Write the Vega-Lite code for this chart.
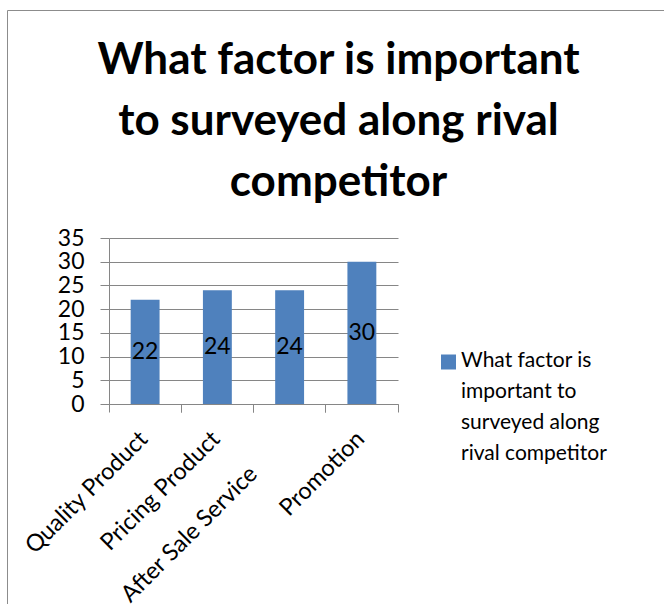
{
  "$schema": "https://vega.github.io/schema/vega-lite/v6.json",
  "autosize": "none",
  "width": 657,
  "height": 600,
  "padding": {"left": 7, "top": 10, "right": 0, "bottom": 0},
  "background": "white",
  "config": {
    "view": {"stroke": "#8c8c8c", "strokeWidth": 1},
    "font": "Lato",
    "style": {"guide-label": {"lineHeight": 31}},
    "axis": {
      "domainColor": "#868686",
      "tickColor": "#868686",
      "gridColor": "#868686",
      "labelColor": "black",
      "labelFont": "Lato",
      "title": null
    }
  },
  "title": {
    "text": ["What factor is important", "to surveyed along rival", "competitor"],
    "font": "Lato",
    "fontSize": 44,
    "fontWeight": "bold",
    "lineHeight": 61,
    "anchor": "middle",
    "frame": "group",
    "orient": "top",
    "baseline": "top",
    "offset": 0,
    "dy": 195,
    "dx": 3,
    "color": "black"
  },
  "data": {
    "values": [
      {"category": "Quality Product", "value": 22, "series": "What factor is important to surveyed along rival competitor"},
      {"category": "Pricing Product", "value": 24, "series": "What factor is important to surveyed along rival competitor"},
      {"category": "After Sale Service", "value": 24, "series": "What factor is important to surveyed along rival competitor"},
      {"category": "Promotion", "value": 30, "series": "What factor is important to surveyed along rival competitor"}
    ]
  },
  "layer": [
    {
      "mark": {"type": "bar", "width": {"band": 0.4}},
      "encoding": {
        "x": {
          "field": "category", "type": "nominal", "sort": null,
          "scale": {"range": [102, 391], "paddingInner": 0, "paddingOuter": 0},
          "axis": {"orient": "bottom", "offset": -206, "bandPosition": 0, "labels": false, "domain": true, "ticks": true, "tickSize": 8, "grid": false}
        },
        "y": {
          "field": "value", "type": "quantitative",
          "scale": {"domain": [0, 35], "range": [394, 228], "nice": false, "zero": true},
          "axis": {"orient": "left", "offset": -102, "values": [0, 5, 10, 15, 20, 25, 30, 35], "grid": true, "tickSize": 9, "labelPadding": 16, "labelFontSize": 23, "labelBaseline": "middle"}
        },
        "color": {
          "field": "series", "type": "nominal",
          "scale": {"range": ["#4F81BD"]},
          "legend": {
            "orient": "none", "legendX": 431, "legendY": 346, "padding": 0,
            "title": null, "symbolType": "M-1,-1.6H1V0.4H-1Z", "symbolSize": 225, "symbolStrokeWidth": 0,
            "labelFontSize": 21, "labelLimit": 400, "labelOffset": 2, "labelColor": "black",
            "labelBaseline": "alphabetic",
            "labelExpr": "['What factor is', 'important to', 'surveyed along', 'rival competitor']"
          }
        }
      }
    },
    {
      "transform": [{"calculate": "datum.value / 2", "as": "mid"}],
      "mark": {"type": "text", "fontSize": 23, "color": "black", "baseline": "middle", "align": "center"},
      "encoding": {
        "x": {
          "field": "category", "type": "nominal", "sort": null,
          "axis": {"orient": "bottom", "offset": -206, "bandPosition": 1, "labels": false, "domain": false, "ticks": true, "tickSize": 8, "grid": false}
        },
        "y": {"field": "mid", "type": "quantitative"},
        "text": {"field": "value", "type": "quantitative"}
      }
    },
    {
      "mark": {"type": "text", "text": ""},
      "encoding": {
        "x": {
          "field": "category", "type": "nominal", "sort": null,
          "axis": {
            "orient": "bottom", "offset": -206, "labels": true, "domain": false, "ticks": false, "grid": false, "tickSize": 8,
            "labelAngle": -45, "labelAlign": "right", "labelBaseline": "middle",
            "labelPadding": {"condition": {"test": "datum.value === 'After Sale Service'", "value": 66}, "value": 31},
            "labelOffset": {"condition": {"test": "datum.value === 'After Sale Service'", "value": -36}, "value": -1},
            "labelFontSize": 23.5, "labelLimit": 400
          }
        }
      }
    }
  ],
  "resolve": {"axis": {"x": "independent"}}
}
